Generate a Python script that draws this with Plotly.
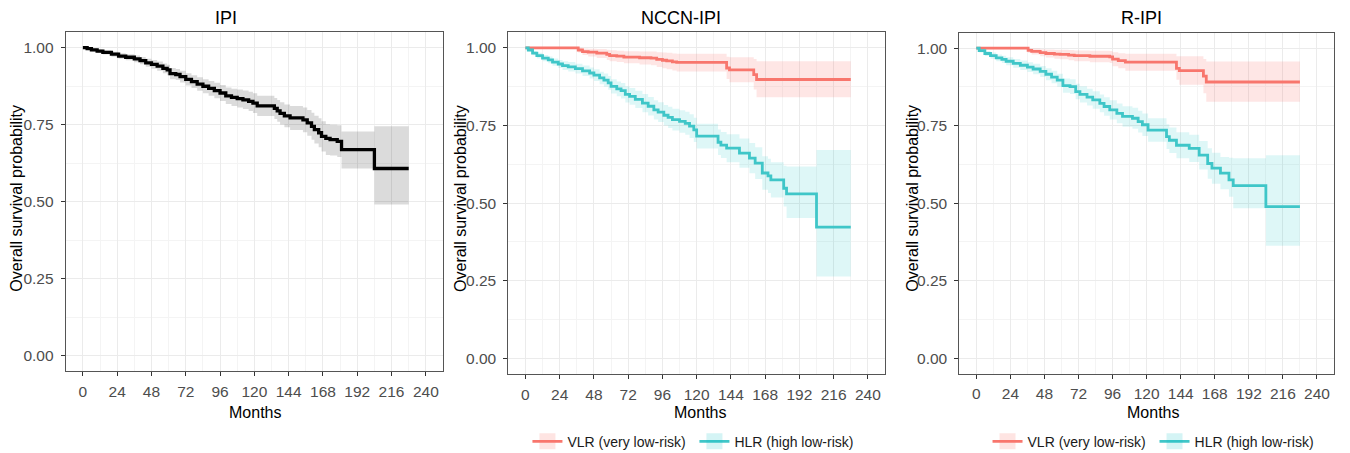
import plotly.graph_objects as go

# ---------------- data ----------------
# IPI (whole cohort)
ipi_t = [0, 3, 6, 10, 14, 20, 25, 30, 36, 40, 44, 48, 52, 56, 59, 61, 65, 68, 72, 76,
         80, 84, 88, 92, 96, 100, 104, 108, 112, 116, 119, 122, 134, 136, 138, 141, 145, 154, 157, 160,
         162, 165, 167, 170, 173, 178, 181, 204, 228]
ipi_s = [1.000, 0.997, 0.993, 0.989, 0.985, 0.979, 0.973, 0.969, 0.964, 0.958, 0.951, 0.946, 0.940, 0.933, 0.928, 0.916, 0.913, 0.906, 0.897, 0.890,
         0.882, 0.875, 0.868, 0.861, 0.853, 0.844, 0.839, 0.835, 0.831, 0.826, 0.820, 0.811, 0.803, 0.795, 0.787, 0.779, 0.772, 0.766, 0.756, 0.745,
         0.734, 0.724, 0.712, 0.706, 0.702, 0.696, 0.669, 0.608, 0.608]
ipi_lo = [1.000, 0.993, 0.988, 0.983, 0.978, 0.971, 0.964, 0.959, 0.953, 0.946, 0.938, 0.932, 0.925, 0.917, 0.911, 0.898, 0.895, 0.887, 0.877, 0.869,
          0.860, 0.852, 0.844, 0.836, 0.827, 0.817, 0.811, 0.806, 0.801, 0.795, 0.788, 0.778, 0.769, 0.760, 0.751, 0.742, 0.733, 0.726, 0.714, 0.701,
          0.689, 0.677, 0.663, 0.652, 0.650, 0.645, 0.608, 0.491, 0.491]
ipi_hi = [1.000, 1.000, 0.998, 0.995, 0.992, 0.987, 0.982, 0.979, 0.975, 0.970, 0.964, 0.960, 0.955, 0.949, 0.945, 0.934, 0.931, 0.925, 0.917, 0.911,
          0.904, 0.898, 0.892, 0.886, 0.879, 0.871, 0.867, 0.864, 0.861, 0.857, 0.852, 0.844, 0.837, 0.830, 0.823, 0.816, 0.811, 0.806, 0.798, 0.789,
          0.779, 0.771, 0.761, 0.752, 0.750, 0.748, 0.728, 0.745, 0.745]

# NCCN-IPI
nccn_vlr_t = [0, 37, 40, 44, 50, 57, 59, 64, 69, 80, 88, 92, 96, 99, 103, 106, 141, 143, 160, 162, 228]
nccn_vlr_s = [1.000, 0.993, 0.988, 0.986, 0.983, 0.979, 0.975, 0.973, 0.970, 0.968, 0.967, 0.963, 0.960, 0.958, 0.955, 0.953, 0.935, 0.929, 0.914, 0.898, 0.898]
nccn_vlr_lo = [1.000, 0.985, 0.977, 0.972, 0.967, 0.961, 0.957, 0.954, 0.950, 0.946, 0.944, 0.938, 0.934, 0.931, 0.927, 0.924, 0.900, 0.889, 0.866, 0.841, 0.841]
nccn_vlr_hi = [1.000, 1.000, 0.998, 0.997, 0.996, 0.994, 0.992, 0.991, 0.989, 0.988, 0.988, 0.986, 0.985, 0.984, 0.982, 0.981, 0.971, 0.970, 0.964, 0.957, 0.957]

nccn_hlr_t = [0, 2, 5, 8, 12, 16, 19, 23, 26, 30, 35, 40, 45, 48, 52, 55, 58, 60, 64, 67,
              70, 73, 77, 82, 86, 90, 93, 97, 100, 103, 108, 112, 115, 118, 120, 135, 137, 141, 150, 157,
              161, 166, 170, 172, 181, 183, 204, 228]
nccn_hlr_s = [1.000, 0.993, 0.983, 0.975, 0.967, 0.961, 0.954, 0.948, 0.943, 0.939, 0.933, 0.926, 0.919, 0.912, 0.903, 0.896, 0.887, 0.876, 0.868, 0.862,
              0.850, 0.844, 0.834, 0.822, 0.812, 0.800, 0.793, 0.783, 0.776, 0.769, 0.763, 0.757, 0.748, 0.736, 0.716, 0.696, 0.687, 0.677, 0.661, 0.645,
              0.629, 0.597, 0.588, 0.575, 0.548, 0.530, 0.423, 0.423]
nccn_hlr_lo = [1.000, 0.988, 0.976, 0.966, 0.957, 0.950, 0.942, 0.935, 0.929, 0.924, 0.917, 0.909, 0.901, 0.893, 0.883, 0.875, 0.865, 0.853, 0.844, 0.837,
               0.824, 0.817, 0.806, 0.793, 0.782, 0.769, 0.761, 0.750, 0.742, 0.734, 0.727, 0.720, 0.710, 0.697, 0.676, 0.655, 0.645, 0.632, 0.614, 0.596,
               0.578, 0.543, 0.533, 0.518, 0.489, 0.452, 0.264, 0.264]
nccn_hlr_hi = [1.000, 0.998, 0.990, 0.984, 0.977, 0.972, 0.966, 0.961, 0.957, 0.954, 0.949, 0.943, 0.937, 0.931, 0.923, 0.917, 0.909, 0.899, 0.892, 0.887,
               0.876, 0.871, 0.862, 0.851, 0.842, 0.831, 0.825, 0.816, 0.810, 0.804, 0.799, 0.794, 0.786, 0.775, 0.756, 0.737, 0.729, 0.722, 0.708, 0.694,
               0.680, 0.651, 0.643, 0.632, 0.620, 0.618, 0.671, 0.671]

# R-IPI
ripi_vlr_t = [0, 36.5, 39, 45, 49, 55, 59, 65, 69, 80, 94, 96, 100, 105, 141, 143, 160, 162, 228]
ripi_vlr_s = [1.000, 0.993, 0.990, 0.986, 0.983, 0.981, 0.980, 0.978, 0.976, 0.974, 0.972, 0.965, 0.960, 0.955, 0.935, 0.928, 0.910, 0.891, 0.891]
ripi_vlr_lo = [1.000, 0.985, 0.980, 0.974, 0.970, 0.966, 0.964, 0.961, 0.958, 0.955, 0.952, 0.942, 0.935, 0.927, 0.898, 0.882, 0.855, 0.827, 0.827]
ripi_vlr_hi = [1.000, 1.000, 0.999, 0.997, 0.996, 0.995, 0.995, 0.994, 0.993, 0.992, 0.991, 0.987, 0.984, 0.982, 0.974, 0.974, 0.965, 0.957, 0.957]

ripi_hlr_t = [0, 2, 6, 10, 14, 18, 21, 26, 31, 36, 40, 45, 49, 53, 57, 61, 66, 70, 73, 78,
              82, 87, 90, 94, 99, 103, 110, 114, 117, 121, 134, 136, 141, 150, 157, 163, 166, 172, 178, 181,
              204, 228]
ripi_hlr_s = [1.000, 0.992, 0.983, 0.976, 0.969, 0.964, 0.958, 0.951, 0.945, 0.939, 0.933, 0.925, 0.916, 0.907, 0.897, 0.879, 0.876, 0.860, 0.851, 0.842,
              0.833, 0.822, 0.812, 0.801, 0.790, 0.780, 0.774, 0.763, 0.753, 0.736, 0.715, 0.703, 0.687, 0.677, 0.655, 0.628, 0.613, 0.597, 0.575, 0.557,
              0.489, 0.489]
ripi_hlr_lo = [1.000, 0.986, 0.975, 0.966, 0.958, 0.952, 0.945, 0.937, 0.930, 0.923, 0.916, 0.907, 0.897, 0.887, 0.876, 0.856, 0.852, 0.835, 0.825, 0.815,
               0.805, 0.793, 0.782, 0.770, 0.758, 0.747, 0.740, 0.728, 0.717, 0.698, 0.675, 0.662, 0.645, 0.633, 0.609, 0.579, 0.563, 0.545, 0.521, 0.484,
               0.363, 0.363]
ripi_hlr_hi = [1.000, 0.998, 0.991, 0.986, 0.980, 0.976, 0.971, 0.965, 0.960, 0.955, 0.950, 0.943, 0.935, 0.927, 0.918, 0.902, 0.900, 0.885, 0.877, 0.869,
               0.861, 0.851, 0.842, 0.832, 0.822, 0.813, 0.808, 0.798, 0.789, 0.774, 0.755, 0.744, 0.729, 0.721, 0.701, 0.677, 0.663, 0.649, 0.647, 0.645,
               0.655, 0.655]

panel_titles = ["IPI", "NCCN-IPI", "R-IPI"]
group_names = ["VLR (very low-risk)", "HLR (high low-risk)"]
x_label = "Months"
y_label = "Overall survival probability"

# ---------------- styling ----------------
RED = "#F8766D"
CYAN = "#3FC6C8"
RED_FILL = "rgba(248,118,109,0.18)"
CYAN_FILL = "rgba(0,191,196,0.13)"
RED_KEY = "rgba(248,118,109,0.2)"
CYAN_KEY = "rgba(0,191,196,0.17)"
GREY_FILL = "rgba(0,0,0,0.14)"
FONT = "Liberation Sans, Arial, Helvetica, sans-serif"

fig = go.Figure()


def add_curve(t, s, lo, hi, color, fill, xa, ya, width, leg):
    fig.add_trace(go.Scatter(x=t, y=lo, mode="lines", line=dict(width=0, shape="hv"),
                             showlegend=False, hoverinfo="skip", xaxis=xa, yaxis=ya, legend=leg))
    fig.add_trace(go.Scatter(x=t, y=hi, mode="lines", line=dict(width=0, shape="hv"),
                             fill="tonexty", fillcolor=fill,
                             showlegend=False, hoverinfo="skip", xaxis=xa, yaxis=ya, legend=leg))
    fig.add_trace(go.Scatter(x=t, y=s, mode="lines", line=dict(color=color, width=width, shape="hv"),
                             showlegend=False, xaxis=xa, yaxis=ya, legend=leg))


add_curve(ipi_t, ipi_s, ipi_lo, ipi_hi, "#000000", GREY_FILL, "x", "y", 3.3, "legend")
add_curve(nccn_vlr_t, nccn_vlr_s, nccn_vlr_lo, nccn_vlr_hi, RED, RED_FILL, "x2", "y2", 2.8, "legend")
add_curve(nccn_hlr_t, nccn_hlr_s, nccn_hlr_lo, nccn_hlr_hi, CYAN, CYAN_FILL, "x2", "y2", 2.8, "legend")
add_curve(ripi_vlr_t, ripi_vlr_s, ripi_vlr_lo, ripi_vlr_hi, RED, RED_FILL, "x3", "y3", 2.8, "legend2")
add_curve(ripi_hlr_t, ripi_hlr_s, ripi_hlr_lo, ripi_hlr_hi, CYAN, CYAN_FILL, "x3", "y3", 2.8, "legend2")

# legend entries (no data, key only)
for leg, xa, ya in [("legend", "x2", "y2"), ("legend2", "x3", "y3")]:
    for name, col, fc in [(group_names[0], RED, RED_KEY), (group_names[1], CYAN, CYAN_KEY)]:
        fig.add_trace(go.Scatter(x=[None], y=[None], mode="lines+markers", name=name,
                                 line=dict(color=col, width=2.8),
                                 marker=dict(symbol="square", size=16, color=fc),
                                 legend=leg, xaxis=xa, yaxis=ya))

xdoms = [[0.04867, 0.32815], [0.37652, 0.65556], [0.71059, 0.98815]]
ydoms = [[0.1804, 0.9287], [0.1744, 0.9287], [0.1751, 0.9278]]

axis_common = dict(showline=True, mirror=True, linecolor="#555555", linewidth=1,
                   ticks="outside", ticklen=4, tickwidth=1, tickcolor="#333333",
                   tickfont=dict(family=FONT, size=15.5, color="#4D4D4D"),
                   showgrid=True, gridcolor="#EBEBEB", gridwidth=1, zeroline=False)

layout = dict(width=1350, height=453, margin=dict(l=0, r=0, t=0, b=0, autoexpand=False),
              plot_bgcolor="white", paper_bgcolor="white",
              font=dict(family=FONT, color="#000000"))
for i in range(3):
    sx = "" if i == 0 else str(i + 1)
    layout["xaxis" + sx] = dict(axis_common, domain=xdoms[i], anchor="y" + sx,
                                range=[-12, 252], tick0=0, dtick=24, automargin=False,
                                minor=dict(dtick=12, tick0=0, showgrid=True, gridcolor="#F4F4F4", gridwidth=0.6, ticks=""),
                                ticklabelstandoff=2)
    layout["yaxis" + sx] = dict(axis_common, domain=ydoms[i], anchor="x" + sx,
                                range=[-0.05, 1.05], tick0=0, dtick=0.25, tickformat=".2f", automargin=False,
                                minor=dict(dtick=0.125, tick0=0, showgrid=True, gridcolor="#F4F4F4", gridwidth=0.6, ticks=""),
                                ticklabelstandoff=4)

legend_common = dict(orientation="h", yanchor="middle", y=0.025, xanchor="left", traceorder="normal",
                     bgcolor="rgba(0,0,0,0)", font=dict(family=FONT, size=14, color="#1A1A1A"),
                     itemsizing="trace", entrywidth=122, entrywidthmode="pixels", itemclick=False)
layout["legend"] = dict(legend_common, x=0.3907)
layout["legend2"] = dict(legend_common, x=0.7315)
fig.update_layout(**layout)

title_x = [0.1672, 0.5042, 0.8457]
months_x = [0.1889, 0.5185, 0.8541]
ylab_x = [0.01163, 0.3407, 0.6753]
for i in range(3):
    fig.add_annotation(text=panel_titles[i], xref="paper", yref="paper", x=title_x[i], y=0.9603,
                       xanchor="center", yanchor="middle", showarrow=False,
                       font=dict(family=FONT, size=18, color="#000000"))
    fig.add_annotation(text=x_label, xref="paper", yref="paper", x=months_x[i], y=0.0905,
                       xanchor="center", yanchor="middle", showarrow=False,
                       font=dict(family=FONT, size=16, color="#000000"))
    fig.add_annotation(text=y_label, xref="paper", yref="paper", x=ylab_x[i], y=0.5629,
                       xanchor="center", yanchor="middle", showarrow=False, textangle=-90,
                       font=dict(family=FONT, size=16, color="#000000"))

fig.write_html("out.html", config={"displayModeBar": False},
               post_script="document.body.style.margin='0';document.body.style.padding='0';"
                           "document.documentElement.style.overflow='hidden';")
